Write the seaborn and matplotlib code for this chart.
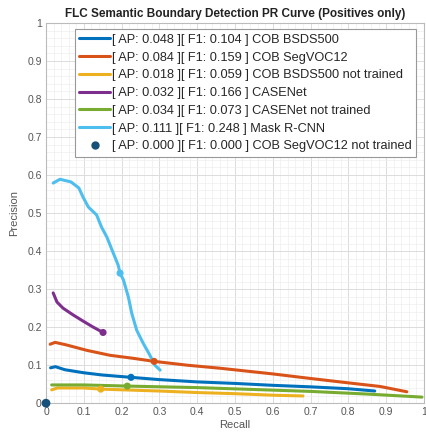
import numpy as np
import pandas as pd
import matplotlib
matplotlib.use("Agg")
import matplotlib.pyplot as plt
import seaborn as sns
from matplotlib.ticker import MultipleLocator

# curve points
cob_bsds_r = [0.012, 0.025, 0.05, 0.1, 0.15, 0.225, 0.3, 0.4, 0.5, 0.6, 0.7, 0.8, 0.87]
cob_bsds_p = [0.093, 0.096, 0.088, 0.080, 0.074, 0.068, 0.062, 0.056, 0.052, 0.047, 0.043, 0.038, 0.032]

cob_voc_r = [0.011, 0.024, 0.055, 0.108, 0.169, 0.231, 0.286, 0.373, 0.46, 0.6, 0.7, 0.804, 0.884, 0.955]
cob_voc_p = [0.155, 0.160, 0.153, 0.139, 0.126, 0.118, 0.110, 0.100, 0.092, 0.077, 0.065, 0.053, 0.044, 0.030]

cob_bsds_nt_r = [0.015, 0.03, 0.1, 0.145, 0.3, 0.4, 0.5, 0.6, 0.68]
cob_bsds_nt_p = [0.035, 0.040, 0.040, 0.037, 0.032, 0.028, 0.025, 0.021, 0.019]

casenet_r = [0.019, 0.029, 0.045, 0.072, 0.098, 0.125, 0.151]
casenet_p = [0.290, 0.266, 0.250, 0.232, 0.216, 0.200, 0.186]

casenet_nt_r = [0.015, 0.1, 0.215, 0.4, 0.55, 0.7, 0.85, 0.995]
casenet_nt_p = [0.048, 0.048, 0.045, 0.041, 0.036, 0.031, 0.024, 0.016]

mask_r = [0.019, 0.037, 0.066, 0.087, 0.098, 0.112, 0.134, 0.147, 0.161, 0.178,
          0.191, 0.196, 0.205, 0.218, 0.227, 0.240, 0.257, 0.275, 0.288, 0.302]
mask_p = [0.579, 0.589, 0.582, 0.566, 0.542, 0.516, 0.495, 0.463, 0.437, 0.395,
          0.363, 0.342, 0.324, 0.279, 0.236, 0.192, 0.158, 0.126, 0.100, 0.087]

cob_voc_nt_r = [0.0]
cob_voc_nt_p = [0.0]

# best F1 points
best_r = [0.225, 0.286, 0.145, 0.151, 0.215, 0.196]
best_p = [0.068, 0.110, 0.037, 0.186, 0.045, 0.342]

labels = [
    "[ AP: 0.048 ][ F1: 0.104 ] COB BSDS500",
    "[ AP: 0.084 ][ F1: 0.159 ] COB SegVOC12",
    "[ AP: 0.018 ][ F1: 0.059 ] COB BSDS500 not trained",
    "[ AP: 0.032 ][ F1: 0.166 ] CASENet",
    "[ AP: 0.034 ][ F1: 0.073 ] CASENet not trained",
    "[ AP: 0.111 ][ F1: 0.248 ] Mask R-CNN",
    "[ AP: 0.000 ][ F1: 0.000 ] COB SegVOC12 not trained",
]
colors = ["#0072BD", "#D95319", "#EDB120", "#7E2F8E", "#77AC30", "#4DBEEE", "#17507a"]

ticks = [0, 0.1, 0.2, 0.3, 0.4, 0.5, 0.6, 0.7, 0.8, 0.9, 1]
tick_labels = ["0", "0.1", "0.2", "0.3", "0.4", "0.5", "0.6", "0.7", "0.8", "0.9", "1"]

curves = [(cob_bsds_r, cob_bsds_p), (cob_voc_r, cob_voc_p), (cob_bsds_nt_r, cob_bsds_nt_p),
          (casenet_r, casenet_p), (casenet_nt_r, casenet_nt_p), (mask_r, mask_p)]

sns.set_theme(style="whitegrid")
plt.rcParams["font.family"] = ["Liberation Sans", "DejaVu Sans"]

fig = plt.figure(figsize=(4.26, 4.34), dpi=100)
ax = fig.add_axes([0.108, 0.071, 0.887, 0.876])

handles = []
for i, (r, p) in enumerate(curves):
    df = pd.DataFrame({"Recall": r, "Precision": p})
    sns.lineplot(data=df, x="Recall", y="Precision", sort=False, estimator=None,
                 color=colors[i], linewidth=2.2, ax=ax)
    h, = ax.plot([], [], color=colors[i], linewidth=2.2)
    handles.append(h)

sns.scatterplot(x=best_r, y=best_p, hue=list(range(6)), palette=colors[:6],
                s=26, edgecolor="none", legend=False, ax=ax, zorder=5)
sns.scatterplot(x=cob_voc_nt_r, y=cob_voc_nt_p, color=colors[6], s=40,
                edgecolor="none", ax=ax, zorder=6, clip_on=False)
h, = ax.plot([], [], "o", color=colors[6], markersize=5, linestyle="none")
handles.append(h)

ax.set_xlim(0, 1)
ax.set_ylim(0, 1)
ax.set_xticks(ticks, tick_labels)
ax.set_yticks(ticks, tick_labels)
ax.xaxis.set_minor_locator(MultipleLocator(0.02))
ax.yaxis.set_minor_locator(MultipleLocator(0.02))
ax.grid(which="major", color="#dcdcdc", linewidth=0.7)
ax.grid(which="minor", color="#eeeeee", linewidth=0.5)
ax.tick_params(axis="both", which="both", labelsize=7.5, labelcolor="#555555",
               length=0, pad=3)
for s in ax.spines.values():
    s.set_color("#bbbbbb")
    s.set_linewidth(0.8)

ax.set_xlabel("Recall", fontsize=8, color="#555555", labelpad=2)
ax.set_ylabel("Precision", fontsize=8, color="#555555", labelpad=6)
ax.set_title("FLC Semantic Boundary Detection PR Curve (Positives only)",
             fontsize=8.5, fontweight="bold", color="#222222", pad=4)

leg = ax.legend(handles, labels, loc="upper left", bbox_to_anchor=(0.07, 0.99),
                fontsize=9.2, frameon=True, handlelength=2.4, handletextpad=0.15,
                labelspacing=0.45, borderpad=0.35, borderaxespad=0.2, fancybox=False)
leg.get_frame().set_edgecolor("#999999")
leg.get_frame().set_linewidth(0.8)
leg.get_frame().set_alpha(1)

fig.savefig("out.png", dpi=100)
